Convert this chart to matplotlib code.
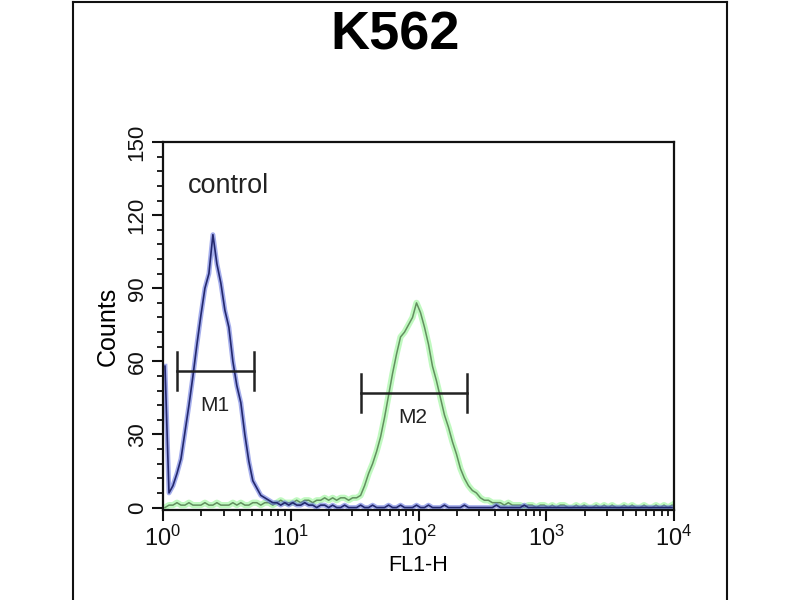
import numpy as np
import matplotlib
matplotlib.use("Agg")
from matplotlib import pyplot as plt
from matplotlib.ticker import MultipleLocator, LogLocator, NullFormatter
from matplotlib.lines import Line2D

narrow = ['Liberation Sans Narrow', 'Liberation Sans', 'DejaVu Sans']
plt.rcParams['font.family'] = ['Liberation Sans', 'DejaVu Sans']
plt.rcParams['mathtext.fontset'] = 'custom'
plt.rcParams['mathtext.rm'] = 'Liberation Sans Narrow'
plt.rcParams['mathtext.it'] = 'Liberation Sans Narrow:italic'
plt.rcParams['mathtext.bf'] = 'Liberation Sans Narrow:bold'

# histogram channels, 32 per decade, 10^0 .. 10^4
bins_per_decade = 32
n_bins = 128

control_counts = [
    58, 6, 9, 14, 20, 31, 42, 54, 67, 79, 90, 96, 112, 100, 92, 81,
    74, 60, 50, 43, 30, 19, 11, 8, 5, 4, 3, 2, 2, 1, 2, 1,
    2, 1, 1, 2, 1, 1, 0, 1, 1, 0, 1, 0, 0, 1, 0, 0,
    0, 1, 0, 0, 1, 0, 0, 0, 1, 0, 0, 1, 0, 0, 0, 1,
    0, 0, 1, 0, 0, 0, 1, 0, 0, 0, 0, 1, 0, 0, 0, 0,
    0, 0, 0, 1, 0, 0, 0, 0, 0, 0, 1, 0, 0, 0, 0, 0,
    0, 0, 0, 0, 0, 0, 0, 0, 0, 0, 0, 0, 0, 0, 0, 0,
    0, 0, 0, 0, 0, 0, 0, 0, 0, 0, 0, 0, 0, 0, 0, 0,
]

sample_counts = [
    0, 1, 1, 2, 1, 1, 2, 1, 1, 1, 2, 1, 1, 2, 1, 1,
    1, 2, 1, 2, 1, 1, 2, 2, 1, 2, 2, 1, 2, 3, 2, 2,
    2, 3, 2, 3, 3, 2, 3, 3, 4, 3, 4, 3, 4, 4, 3, 4,
    4, 5, 9, 14, 18, 23, 29, 37, 46, 55, 63, 70, 72, 75, 78, 84,
    80, 74, 67, 58, 52, 45, 38, 33, 27, 22, 16, 12, 9, 7, 6, 4,
    3, 3, 2, 2, 2, 1, 2, 1, 1, 1, 0, 1, 1, 0, 1, 1,
    0, 1, 0, 1, 1, 0, 0, 1, 0, 1, 0, 0, 1, 0, 1, 0,
    1, 0, 0, 1, 0, 1, 0, 0, 1, 0, 0, 1, 0, 1, 0, 1,
]

# markers: name, low, high, bar level
marker_names = ["M1", "M2"]
marker_low = [1.28, 35.3]
marker_high = [5.15, 238.0]
marker_level = [56, 47]
marker_label_x = [2.55, 90.0]
marker_label_y = [42, 37]

centers = 10 ** ((np.arange(n_bins) + 0.5) / bins_per_decade)

fig = plt.figure(figsize=(8, 6), dpi=100)
ax = fig.add_axes([0.20375, 0.15, 0.63875, 0.6133])

# sample (green) first, control (blue) on top
ax.plot(centers, sample_counts, color='#a6f7a6', lw=4.5, alpha=0.7, solid_joinstyle='round')
ax.plot(centers, sample_counts, color='#62905f', lw=1.1)
ax.plot(centers, control_counts, color='#6a78e0', lw=3.5, alpha=0.6, solid_joinstyle='round')
ax.plot(centers, control_counts, color='#23286e', lw=1.2)

for name, lo, hi, lev, tx, ty in zip(marker_names, marker_low, marker_high,
                                     marker_level, marker_label_x, marker_label_y):
    ax.plot([lo, hi], [lev, lev], color='#222222', lw=1.8)
    ax.plot([lo, lo], [lev - 7.8, lev + 7.8], color='#222222', lw=1.8)
    ax.plot([hi, hi], [lev - 7.8, lev + 7.8], color='#222222', lw=1.8)
    ax.text(tx, ty, name, fontsize=15, family=narrow, ha='center', va='center',
            color='#222222')

ax.text(10 ** 0.196, 132, "control", fontsize=19.5, ha='left', va='center', color='#222222')

ax.set_xscale('log')
ax.set_xlim(1, 1e4)
ax.set_ylim(-1, 150)
ax.set_yticks([0, 30, 60, 90, 120, 150])
ax.yaxis.set_minor_locator(MultipleLocator(6))
ax.xaxis.set_major_locator(LogLocator(base=10, numticks=10))
ax.xaxis.set_minor_locator(LogLocator(base=10, subs=np.arange(2, 10), numticks=20))
ax.xaxis.set_minor_formatter(NullFormatter())

for s in ax.spines.values():
    s.set_linewidth(1.6)
    s.set_color('#111111')

ax.tick_params(axis='both', which='major', direction='out', length=8, width=1.5,
               labelsize=17, pad=3, colors='#111111')
ax.tick_params(axis='both', which='minor', direction='out', length=4.5, width=1.3,
               colors='#111111')
ax.tick_params(axis='y', labelrotation=90, labelsize=16)
for lab in ax.get_yticklabels() + ax.get_xticklabels():
    lab.set_family(narrow)
for lab in ax.get_yticklabels():
    lab.set_va('center')

ax.set_xlabel("FL1-H", fontsize=15.5, family=narrow, labelpad=3)
ax.set_ylabel("Counts", fontsize=18, family=narrow, labelpad=5)

fig.text(0.494, 0.94, "K562", fontsize=39, fontweight='bold', ha='center', va='center')

# outer panel frame
fig.add_artist(Line2D([0.091, 0.091], [0.0, 0.997], color='#111111', lw=1.5, transform=fig.transFigure))
fig.add_artist(Line2D([0.909, 0.909], [0.0, 0.997], color='#111111', lw=1.5, transform=fig.transFigure))
fig.add_artist(Line2D([0.091, 0.909], [0.997, 0.997], color='#111111', lw=1.5, transform=fig.transFigure))

fig.savefig("out.png", dpi=100)
